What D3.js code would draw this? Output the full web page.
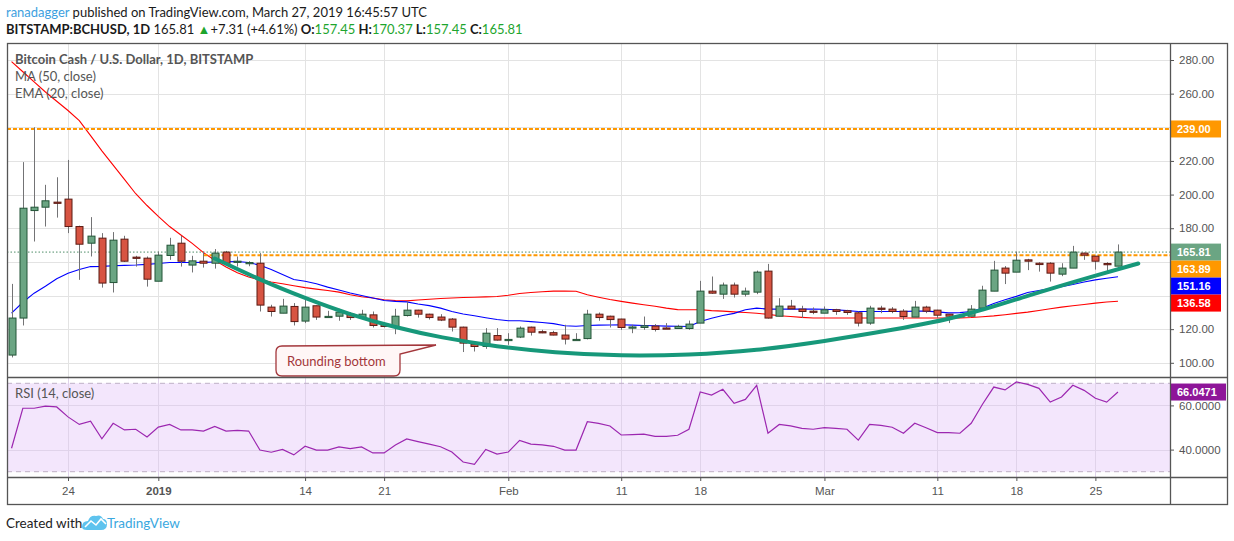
<!DOCTYPE html>
<html><head><meta charset="utf-8">
<script src="https://cdn.jsdelivr.net/npm/d3@7/dist/d3.min.js"></script>
<style>
body{margin:0;background:#fff;}
svg{display:block;}
</style></head><body>
<svg id="c" width="1234" height="541"></svg>
<script>
// ---- data (Bitcoin Cash / USD, daily, Dec 19 2018 .. Mar 27 2019) ----
const startDate = "2018-12-19";
const opens = [104.6,126.6,190.5,192.5,195.5,197.3,181.0,171.1,174.1,147.7,173.5,162.8,162.2,
 148.5,163.8,171.1,158.1,160.4,159.2,165.8,160.0,159.2,159.2,133.1,129.5,133.5,124.8,133.9,127.4,127.7,
 128.9,126.9,128.5,123.0,121.6,128.1,131.3,128.9,127.2,126.0,121.2,111.1,109.7,116.2,
 113.6,115.3,121.2,118.5,117.9,116.5,113.7,114.4,128.9,127.7,126.0,121.1,121.0,121.8,120.7,120.4,120.4,
 123.6,142.6,140.8,146.2,140.8,142.0,154.5,127.7,133.7,131.9,130.7,
 129.5,131.5,130.9,129.7,123.6,132.5,131.9,130.7,127.2,133.1,131.3,128.9,127.8,127.7,132.5,142.6,156.3,
 153.9,161.2,159.2,159.2,152.7,156.3,165.2,163.4,159.0,157.45];
const highs = [146.9,219.3,240.0,205.8,210.3,220.6,181.5,186.6,177.1,177.7,175.5,163.6,163.2,
 166.1,174.3,175.5,163.6,166.1,167.6,166.5,163.2,160.4,165.2,134.5,138.0,135.5,137.4,134.0,130.9,132.1,
 130.1,131.5,130.5,123.6,132.1,136.4,131.5,129.2,128.9,126.6,121.5,111.5,120.6,120.6,
 117.6,121.6,121.5,119.6,119.0,122.6,117.6,131.5,129.9,128.0,126.2,122.6,127.5,123.0,123.6,122.6,125.1,
 148.7,151.3,147.7,147.7,144.7,154.8,158.8,138.4,137.4,133.9,132.9,
 133.5,132.1,131.5,130.5,133.9,133.9,133.1,131.9,136.8,133.9,131.5,129.0,128.9,134.3,145.8,160.6,157.5,
 166.1,161.8,159.8,159.8,159.2,169.5,165.5,163.4,159.8,170.37];
const lows = [103.2,122.2,172.1,181.0,186.3,177.1,149.3,163.2,144.7,141.8,160.0,157.2,145.3,
 148.5,161.2,157.2,153.7,156.6,156.0,158.0,157.2,157.4,130.5,127.5,129.5,122.2,123.6,125.5,127.2,125.0,
 125.5,126.9,121.0,121.0,117.0,127.5,126.9,125.7,124.8,118.6,106.4,106.7,108.3,113.2,
 110.7,114.7,116.2,117.6,116.3,110.9,113.7,113.9,125.0,121.0,119.6,117.6,119.6,118.6,120.5,120.4,119.6,
 123.6,141.0,138.0,138.8,139.4,140.8,126.3,127.7,131.5,126.6,128.9,
 129.5,128.5,128.5,121.6,122.6,129.5,129.5,125.5,127.2,129.5,126.6,123.6,127.2,127.7,132.5,142.6,146.8,
 153.9,155.1,154.2,148.3,151.5,156.3,161.2,155.4,153.3,157.45];
const closes = [126.6,191.9,192.5,196.3,195.0,181.0,170.5,175.3,147.4,172.9,160.4,162.4,149.7,
 164.0,169.9,160.4,160.6,159.2,165.2,159.2,160.4,159.6,134.3,130.5,133.7,124.5,133.1,127.2,127.6,130.1,
 126.9,128.9,122.2,121.6,127.7,131.3,128.9,126.9,125.4,121.2,111.7,109.7,117.6,113.5,
 113.9,120.6,118.2,118.1,116.5,114.1,113.9,128.9,126.9,125.7,121.0,121.3,122.0,119.8,120.5,121.6,123.0,
 142.6,141.4,146.2,140.8,142.6,153.9,126.6,133.7,132.1,130.5,130.3,
 131.5,130.5,129.9,123.6,132.5,132.1,130.5,127.5,133.1,130.7,128.3,127.7,128.0,131.9,143.2,155.1,153.3,
 161.0,160.4,158.4,153.3,156.3,165.8,164.0,160.4,158.5,165.81];
const ma50 = [279,273,267,261,255.5,250,244,235,226,217.5,209,200.5,193.5,
 187,181,176,171,165.5,161,157,153.5,151,149.3,148,147,145.8,144.7,143.8,143,142,
 140.5,139.3,138.5,137.5,137,136.8,137.3,137.8,138.2,138.5,138.8,139,139.2,139.4,
 140.2,141.2,141.8,142.2,142.6,142.7,142.5,140.4,139,137.6,136.5,135.5,134.5,133.6,132.5,131.6,131.5,
 131.5,131,130.7,130.3,129.9,129.5,128.8,128,127.5,127,126.6,
 126.6,126.6,126.6,126.6,126.6,126.6,126.6,126.6,126.6,126.6,126.6,126.6,126.6,126.9,127.4,127.9,128.6,
 129.4,130.1,131.1,132.1,133.1,133.9,134.7,135.5,136.1,136.58];
const ema20 = [129.5,136,141.4,145.5,150,153.3,155.5,157.2,157.3,157.7,157.9,158.1,158.5,
 159,159.6,159.6,159.6,159.7,159.9,160.1,160.2,159.6,158,155.5,152.5,149.5,148.5,147,145,143.3,
 141.5,140,138.5,137,136.5,136.2,135,134,132.5,130.5,129,128,126.8,125.7,
 125,125,124.5,124,123.3,122,121.7,122.2,122.4,122.5,122.6,122.4,122.2,122,121.8,121.7,121.6,
 124.5,126.5,128.1,129.4,131.5,132.5,131.9,131.9,131.9,131.9,131.9,
 131.8,131.5,131,130.5,130.5,130.5,130.5,130.5,130.7,130.7,130.3,129.7,129.8,130.5,132.5,135.3,137.5,
 139.5,141.8,143,144.2,145.3,146.5,148,149.3,150.3,151.16];
const rsi14 = [40.6,58.7,58.7,59.7,59.3,54.8,51.4,52.9,44.9,51.9,48.9,49.2,45.7,
 50.2,51.4,48.9,48.9,48.4,50.5,48.4,48.7,48.4,39.8,38.8,40.1,37.6,41.5,39.8,39.8,41.2,
 40.4,41.2,38.5,38.5,42.1,44.8,43.6,42.5,41.3,38.9,34.4,33.3,40.1,38.0,
 38.9,44.2,42.5,42.1,41.5,39.8,39.8,52.6,51.9,50.7,46.6,46.8,47.0,46.0,46.0,46.5,49.2,
 66.1,64.7,67.3,60.9,62.7,69.1,47.4,51.4,50.7,49.6,49.2,
 49.9,49.6,49.2,44.3,51.4,51.0,50.1,47.4,51.9,49.9,47.7,47.7,47.4,51.9,60.5,68.3,67.0,
 70.6,69.5,67.7,61.5,63.8,69.1,66.8,63.2,61.5,66.0471];
// hand-drawn "rounding bottom" curve: day offsets from startDate and prices
const roundDays   = [18, 22, 26, 30, 34, 38, 43, 48, 54, 60, 66, 72, 78, 84, 90, 96, 99.8];
const roundPrices = [162, 149.3, 138.4, 128.6, 121, 115, 109.6, 106, 104, 104.6, 107.3, 112.8, 119.5, 126.8, 140, 151.9, 159];
const levelPrices = [239.00, 163.89];
const levelStartDays = [-2, 17];
const priceTicks = [100,120,140,160,180,200,220,240,260,280];
const rsiTicks = [40,60];
const rsiBands = [70,30];
const timeTickDates = ["2018-12-24","2019-01-01","2019-01-14","2019-01-21","2019-02-01","2019-02-11","2019-02-18","2019-03-01","2019-03-11","2019-03-18","2019-03-25"];
const timeTickLabels = ["24","2019","14","21","Feb","11","18","Mar","11","18","25"];

// ---- layout ----
const L = 7, R = 1170, AX = 1227, T = 43, MB = 377, RB = 477, B = 504;
const FONT = "'Liberation Sans', Arial, sans-serif";
const UIFONT = "Lato, 'Open Sans', sans-serif";
const svg = d3.select("#c");
const parse = d3.utcParse("%Y-%m-%d");
const t0 = parse(startDate);
const dayDate = d => new Date(t0.getTime() + d * 864e5);
const dates = closes.map((_, i) => dayDate(i));

const x = d3.scaleUtc().domain([t0, dayDate(98)]).range([11.55, 11.55 + 98 * 11.29]);
const y = d3.scaleLinear().domain([100, 280]).range([362.8, 60]);
const yr = d3.scaleLinear().domain([30, 70]).range([471.7, 383.3]);

svg.append("rect").attr("width", 1234).attr("height", 541).attr("fill", "#fff");

const defs = svg.append("defs");
defs.append("clipPath").attr("id", "mainClip").append("rect").attr("x", L).attr("y", T).attr("width", R - L).attr("height", MB - T);
defs.append("clipPath").attr("id", "rsiClip").append("rect").attr("x", L).attr("y", MB).attr("width", R - L).attr("height", RB - MB);

// header
const h1 = svg.append("text").attr("x", 6).attr("y", 17).attr("font-family", UIFONT).attr("font-size", 13);
h1.append("tspan").attr("fill", "#3d9fe0").text("ranadagger");
h1.append("tspan").attr("fill", "#1a1a1a").text(" published on TradingView.com, March 27, 2019 16:45:57 UTC");
const n = closes.length - 1;
const chg = closes[n] - closes[n - 1];
const pct = chg / closes[n - 1] * 100;
const G = "#1ea52e";
const h2 = svg.append("text").attr("x", 6).attr("y", 34).attr("font-family", UIFONT).attr("font-size", 13).attr("fill", "#1a1a1a");
h2.append("tspan").attr("font-weight", "bold").text("BITSTAMP:BCHUSD, 1D");
h2.append("tspan").text(" " + closes[n].toFixed(2) + " ");
h2.append("tspan").attr("fill", G).text("\u25B2");
h2.append("tspan").text((chg >= 0 ? "+" : "") + chg.toFixed(2) + " (" + (pct >= 0 ? "+" : "") + pct.toFixed(2) + "%)");
[["O:", opens[n]], ["H:", highs[n]], ["L:", lows[n]], ["C:", closes[n]]].forEach(([k, v]) => {
  h2.append("tspan").attr("font-weight", "bold").text(" " + k);
  h2.append("tspan").attr("fill", G).text(v.toFixed(2));
});

// grids
const grid = svg.append("g").attr("stroke", "#e3e3e3").attr("stroke-width", 1);
const tickDates = timeTickDates.map(parse);
tickDates.forEach(d => {
  const xx = Math.round(x(d)) + 0.5;
  grid.append("line").attr("x1", xx).attr("x2", xx).attr("y1", T).attr("y2", MB);
});
priceTicks.forEach(v => {
  const yy = Math.round(y(v)) + 0.5;
  grid.append("line").attr("x1", L).attr("x2", R).attr("y1", yy).attr("y2", yy);
});

// RSI band fill and grid
svg.append("rect").attr("x", L).attr("width", R - L).attr("y", yr(70)).attr("height", yr(30) - yr(70)).attr("fill", "#f3e6fc");
const rgrid = svg.append("g").attr("stroke", "#e0d3ea").attr("stroke-width", 1);
tickDates.forEach(d => {
  const xx = Math.round(x(d)) + 0.5;
  rgrid.append("line").attr("x1", xx).attr("x2", xx).attr("y1", MB).attr("y2", RB);
});
rsiTicks.forEach(v => {
  const yy = Math.round(yr(v)) + 0.5;
  rgrid.append("line").attr("x1", L).attr("x2", R).attr("y1", yy).attr("y2", yy);
});
rsiBands.forEach(v => {
  svg.append("line").attr("x1", L).attr("x2", R).attr("y1", yr(v)).attr("y2", yr(v))
    .attr("stroke", "#bfb0c6").attr("stroke-dasharray", "5,4").attr("stroke-width", 1);
});

// main pane content
const main = svg.append("g").attr("clip-path", "url(#mainClip)");

// last price dotted line
main.append("line").attr("x1", L).attr("x2", R).attr("y1", y(closes[n])).attr("y2", y(closes[n]))
  .attr("stroke", "#4e8c68").attr("stroke-dasharray", "1.5,2").attr("stroke-width", 1);

// MA & EMA
const lineFn = arr => d3.line().x((d, i) => x(dates[i])).y(d => y(d))(arr);
main.append("path").attr("d", lineFn(ma50)).attr("fill", "none").attr("stroke", "#ff0000").attr("stroke-width", 1.1);
main.append("path").attr("d", lineFn(ema20)).attr("fill", "none").attr("stroke", "#0000ff").attr("stroke-width", 1.1);

// horizontal levels
levelPrices.forEach((v, k) => {
  main.append("line").attr("x1", x(dayDate(levelStartDays[k]))).attr("x2", R).attr("y1", y(v)).attr("y2", y(v))
    .attr("stroke", "#ff9800").attr("stroke-width", 2).attr("stroke-dasharray", "4,2");
});

// candles
const bw = 7;
const cg = main.append("g");
closes.forEach((c, i) => {
  const o = opens[i], h = highs[i], l = lows[i];
  const up = c >= o;
  const cx = Math.round(x(dates[i])) + 0.5;
  cg.append("line").attr("x1", cx).attr("x2", cx).attr("y1", y(h)).attr("y2", y(l))
    .attr("stroke", "#737375").attr("stroke-width", 1);
  const top = y(Math.max(o, c)), bot = y(Math.min(o, c));
  const hgt = Math.max(1.2, bot - top);
  cg.append("rect").attr("x", cx - bw / 2).attr("y", top).attr("width", bw).attr("height", hgt)
    .attr("fill", up ? "#6ba583" : "#d75442").attr("stroke", up ? "#225437" : "#5b1a13").attr("stroke-width", 1);
});

// rounding bottom curve
const rb = roundDays.map((d, k) => [x(dayDate(d)), y(roundPrices[k])]);
main.append("path").attr("d", d3.line().curve(d3.curveBasis)(rb)).attr("fill", "none")
  .attr("stroke", "#17987a").attr("stroke-width", 4).attr("stroke-linecap", "round");

// callout
main.append("path")
  .attr("d", "M282,346 L436,345 L400,354 L400,370 Q400,376 394,376 L282,376 Q276,376 276,370 L276,352 Q276,346 282,346 Z")
  .attr("fill", "#fff6f6").attr("stroke", "#a3363b").attr("stroke-width", 1.3);
main.append("text").attr("x", 287).attr("y", 366).attr("font-family", UIFONT).attr("font-size", 13)
  .attr("fill", "#a3363b").text("Rounding bottom");

// legends in pane
svg.append("text").attr("x", 15).attr("y", 64).attr("font-family", UIFONT).attr("font-size", 13).attr("font-weight", "bold")
  .attr("fill", "#555").text("Bitcoin Cash / U.S. Dollar, 1D, BITSTAMP");
svg.append("text").attr("x", 15).attr("y", 81).attr("font-family", UIFONT).attr("font-size", 13)
  .attr("fill", "#555").text("MA (50, close)");
svg.append("text").attr("x", 15).attr("y", 98).attr("font-family", UIFONT).attr("font-size", 13)
  .attr("fill", "#555").text("EMA (20, close)");

// RSI pane
const rsiG = svg.append("g").attr("clip-path", "url(#rsiClip)");
rsiG.append("path").attr("d", d3.line().x((d, i) => x(dates[i])).y(d => yr(d))(rsi14))
  .attr("fill", "none").attr("stroke", "#9c27b0").attr("stroke-width", 1.2);
svg.append("text").attr("x", 15).attr("y", 398).attr("font-family", UIFONT).attr("font-size", 13)
  .attr("fill", "#555").text("RSI (14, close)");

// badge positions (stacked to avoid overlap)
const badges = [[levelPrices[0], "#ff9800", y(levelPrices[0])]];
const stack = [[closes[n], "#6ba583"], [levelPrices[1], "#ff9800"], [ema20[n], "#0000ff"], [ma50[n], "#ff0000"]]
  .sort((a, b) => b[0] - a[0]);
let prev = -Infinity;
stack.forEach(([v, col]) => {
  const yc = Math.max(y(v), prev + 17);
  prev = yc;
  badges.push([v, col, yc]);
});

// axes
const styleAxis = g => {
  g.select(".domain").remove();
  g.selectAll(".tick line").attr("stroke", "#555");
  g.selectAll(".tick text").attr("fill", "#555").attr("font-family", FONT).attr("font-size", 11.5);
};
const ya = svg.append("g").attr("transform", `translate(${R},0)`)
  .call(d3.axisRight(y).tickValues(priceTicks).tickFormat(d3.format(".2f")).tickSize(4).tickPadding(5))
  .call(styleAxis);
// labels hidden under the value badges, as in the original
ya.selectAll(".tick text").filter(v => badges.some(b => Math.abs(b[2] - y(v)) < 14)).remove();
svg.append("g").attr("transform", `translate(${R},0)`)
  .call(d3.axisRight(yr).tickValues(rsiTicks).tickFormat(d3.format(".4f")).tickSize(4).tickPadding(5))
  .call(styleAxis);
const xa = svg.append("g").attr("transform", `translate(0,${RB})`)
  .call(d3.axisBottom(x).tickValues(tickDates).tickFormat((d, i) => timeTickLabels[i]).tickSize(4).tickPadding(6))
  .call(styleAxis);
xa.selectAll(".tick text").filter((d, i) => timeTickLabels[i] === "2019").attr("font-weight", "bold");

function badge(yc, txt, color, w) {
  svg.append("rect").attr("x", R).attr("y", yc - 8.5).attr("width", w).attr("height", 17).attr("fill", color);
  svg.append("text").attr("x", R + 7).attr("y", yc + 4).attr("font-family", FONT).attr("font-size", 11)
    .attr("font-weight", "bold").attr("fill", "#fff").text(txt);
}
badges.forEach(([v, col, yc]) => badge(yc, v.toFixed(2), col, 51));
badge(yr(rsi14[n]), rsi14[n].toFixed(4), "#8e1599", 56);

// frame
const fr = svg.append("g").attr("stroke", "#555").attr("stroke-width", 1.3).attr("fill", "none");
fr.append("rect").attr("x", L + 0.5).attr("y", T + 0.5).attr("width", AX - L).attr("height", B - T);
fr.append("line").attr("x1", R + 0.5).attr("x2", R + 0.5).attr("y1", T).attr("y2", B);
fr.append("line").attr("x1", L).attr("x2", AX).attr("y1", MB + 0.5).attr("y2", MB + 0.5);
fr.append("line").attr("x1", L).attr("x2", AX).attr("y1", RB + 0.5).attr("y2", RB + 0.5);

// footer
svg.append("text").attr("x", 6).attr("y", 528).attr("font-family", UIFONT).attr("font-size", 13.5)
  .attr("fill", "#222").text("Created with");
const logo = svg.append("g").attr("transform", "translate(82,513)");
logo.append("path").attr("d", "M0,14 Q0,8 6,8 Q8,2 14,3 Q19,1 21,6 Q25,6 25,11 Q25,17 19,17 L5,17 Q0,17 0,14 Z").attr("fill", "#5ec3ee");
logo.append("path").attr("d", "M3,14 L9,8 L14,12 L19,6 L24,11").attr("fill", "none").attr("stroke", "#fff").attr("stroke-width", 1.6);
svg.append("text").attr("x", 107).attr("y", 528).attr("font-family", UIFONT).attr("font-size", 13.5)
  .attr("fill", "#3aa8e0").text("TradingView");
</script>
</body></html>
